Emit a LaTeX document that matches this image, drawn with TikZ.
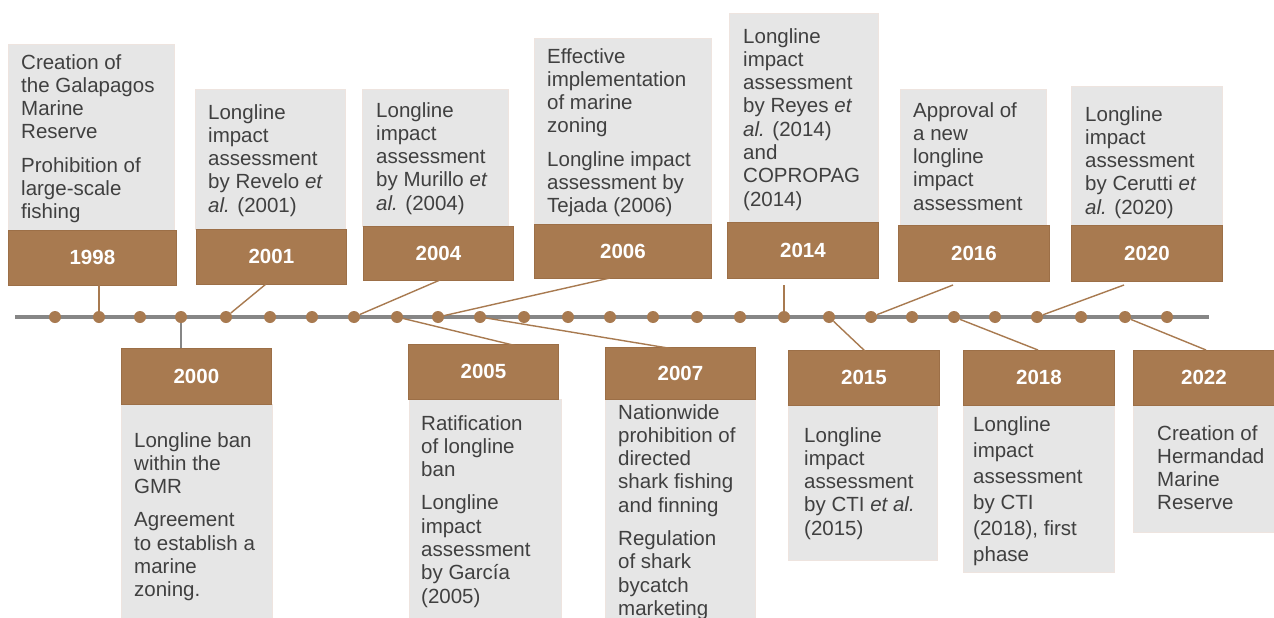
\documentclass[tikz,border=0pt]{standalone}
\usepackage{fontspec}
\setmainfont{Liberation Sans}
\definecolor{brownc}{HTML}{A87A50}
\definecolor{browndk}{HTML}{9C6F47}
\definecolor{boxgray}{HTML}{E6E6E6}
\definecolor{boxedge}{HTML}{EEE4DF}
\definecolor{txt}{HTML}{404040}
\definecolor{linegray}{HTML}{868686}
\tikzset{
  gbox/.style={fill=boxgray, draw=boxedge, line width=0.8pt, inner sep=0, anchor=north west},
  bbox/.style={fill=brownc, draw=browndk, line width=0.8pt, inner sep=0, anchor=north west,
               text=white, font=\fontsize{20.5}{24}\selectfont\bfseries},
  body/.style={anchor=north west, inner sep=0, align=left, text=txt,
               font=\fontsize{20.5}{23.3}\selectfont},
  conn/.style={draw=brownc, line width=1.4pt},
  connG/.style={draw=linegray, line width=1.4pt},
  dot/.style={circle, fill=brownc, inner sep=0, minimum size=12pt},
}
\begin{document}
\begin{tikzpicture}[x=1pt,y=-1pt]
\useasboundingbox (0,0) rectangle (1274,618);
\fill[white] (0,0) rectangle (1274,618);

% ---------- timeline ----------
\coordinate (tlA) at (15,317);
\coordinate (tlB) at (1209,317);
\draw[linegray, line width=4pt] (tlA) -- (tlB);
\foreach \x [count=\i] in {55,99,140,181,226,270,312,354,397,438,480,524,568,610,653,697,740,784,829,871,912,954,995,1037,1081,1125,1167}
  \node[dot] (d\i) at (\x,317) {};

% ---------- top boxes ----------
\node[gbox, minimum width=166pt, minimum height=186pt] (g1998) at (8,44) {};
\node[bbox, minimum width=168pt, minimum height=55pt] (b1998) at (8,230) {1998};
\node[body] (t1998) at (21,54) {Creation of\\the Galapagos\\Marine\\Reserve\\[10pt]Prohibition of\\large-scale\\fishing};

\node[gbox, minimum width=150pt, minimum height=140pt] (g2001) at (195,89) {};
\node[bbox, minimum width=150pt, minimum height=55pt] (b2001) at (196,229) {2001};
\node[body] (t2001) at (208,104) {Longline\\impact\\assessment\\by Revelo \textit{et}\\\textit{al.} (2001)};

\node[gbox, minimum width=146pt, minimum height=137pt] (g2004) at (362,89) {};
\node[bbox, minimum width=150pt, minimum height=54pt] (b2004) at (363,226) {2004};
\node[body] (t2004) at (376,102) {Longline\\impact\\assessment\\by Murillo \textit{et}\\\textit{al.} (2004)};

\node[gbox, minimum width=177pt, minimum height=186pt] (g2006) at (534,38) {};
\node[bbox, minimum width=177pt, minimum height=54pt] (b2006) at (534,224) {2006};
\node[body] (t2006) at (547,48) {Effective\\implementation\\of marine\\zoning\\[10pt]Longline impact\\assessment by\\Tejada (2006)};

\node[gbox, minimum width=149pt, minimum height=209pt] (g2014) at (729,13) {};
\node[bbox, minimum width=151pt, minimum height=56pt] (b2014) at (727,222) {2014};
\node[body] (t2014) at (743,28) {Longline\\impact\\assessment\\by Reyes \textit{et}\\\textit{al.} (2014)\\and\\COPROPAG\\(2014)};

\node[gbox, minimum width=146pt, minimum height=136pt] (g2016) at (900,89) {};
\node[bbox, minimum width=151pt, minimum height=56pt] (b2016) at (898,225) {2016};
\node[body] (t2016) at (913,102) {Approval of\\a new\\longline\\impact\\assessment};

\node[gbox, minimum width=151pt, minimum height=139pt] (g2020) at (1071,86) {};
\node[bbox, minimum width=151pt, minimum height=56pt] (b2020) at (1071,225) {2020};
\node[body] (t2020) at (1085,106) {Longline\\impact\\assessment\\by Cerutti \textit{et}\\\textit{al.} (2020)};

% ---------- bottom boxes ----------
\node[gbox, minimum width=151pt, minimum height=214pt] (g2000) at (121,404) {};
\node[bbox, minimum width=150pt, minimum height=56pt] (b2000) at (121,348) {2000};
\node[body] (t2000) at (134,432) {Longline ban\\within the\\GMR\\[10pt]Agreement\\to establish a\\marine\\zoning.};

\node[gbox, minimum width=152pt, minimum height=219pt] (g2005) at (409,399) {};
\node[bbox, minimum width=150pt, minimum height=55pt] (b2005) at (408,344) {2005};
\node[body] (t2005) at (421,415) {Ratification\\of longline\\ban\\[10pt]Longline\\impact\\assessment\\by García\\(2005)};

\node[gbox, minimum width=150pt, minimum height=219pt] (g2007) at (605,399) {};
\node[bbox, minimum width=150pt, minimum height=52pt] (b2007) at (605,347) {2007};
\node[body] (t2007) at (618,404) {Nationwide\\prohibition of\\directed\\shark fishing\\and finning\\[10pt]Regulation\\of shark\\bycatch\\marketing};

\node[gbox, minimum width=149pt, minimum height=155pt] (g2015) at (788,405) {};
\node[bbox, minimum width=151pt, minimum height=55pt] (b2015) at (788,350) {2015};
\node[body] (t2015) at (804,427) {Longline\\impact\\assessment\\by CTI \textit{et al.}\\(2015)};

\node[gbox, minimum width=151pt, minimum height=167pt] (g2018) at (963,405) {};
\node[bbox, minimum width=151pt, minimum height=55pt] (b2018) at (963,350) {2018};
\node[body, font=\fontsize{20.5}{26}\selectfont] (t2018) at (973,416) {Longline\\impact\\assessment\\by CTI\\(2018), first\\phase};

\node[gbox, minimum width=141pt, minimum height=127pt] (g2022) at (1133,405) {};
\node[bbox, minimum width=141pt, minimum height=55pt] (b2022) at (1133,350) {2022};
\node[body] (t2022) at (1157,425) {Creation of\\Hermandad\\Marine\\Reserve};

% ---------- connectors ----------
\coordinate (c1998) at (99,285);
\coordinate (c2001) at (266,284);
\coordinate (c2004) at (440,280);
\coordinate (c2006) at (610,278);
\coordinate (c2014) at (784,285);
\coordinate (c2016) at (953,285);
\coordinate (c2020) at (1124,285);
\coordinate (c2000) at (181,348);
\coordinate (c2005) at (517,346);
\coordinate (c2007) at (686,351);
\coordinate (c2015) at (866,352);
\coordinate (c2018) at (1038,350);
\coordinate (c2022) at (1206,350);

\draw[conn] (c1998) -- (d2);
\draw[conn] (c2001) -- (d5);
\draw[conn] (c2004) -- (d8);
\draw[conn] (c2006) -- (d10);
\draw[conn] (c2014) -- (d18);
\draw[conn] (c2016) -- (d20);
\draw[conn] (c2020) -- (d24);
\draw[connG] (c2000) -- (d4);
\draw[conn] (c2005) -- (d9);
\draw[conn] (c2007) -- (d11);
\draw[conn] (c2015) -- (d19);
\draw[conn] (c2018) -- (d22);
\draw[conn] (c2022) -- (d26);
\end{tikzpicture}
\end{document}
